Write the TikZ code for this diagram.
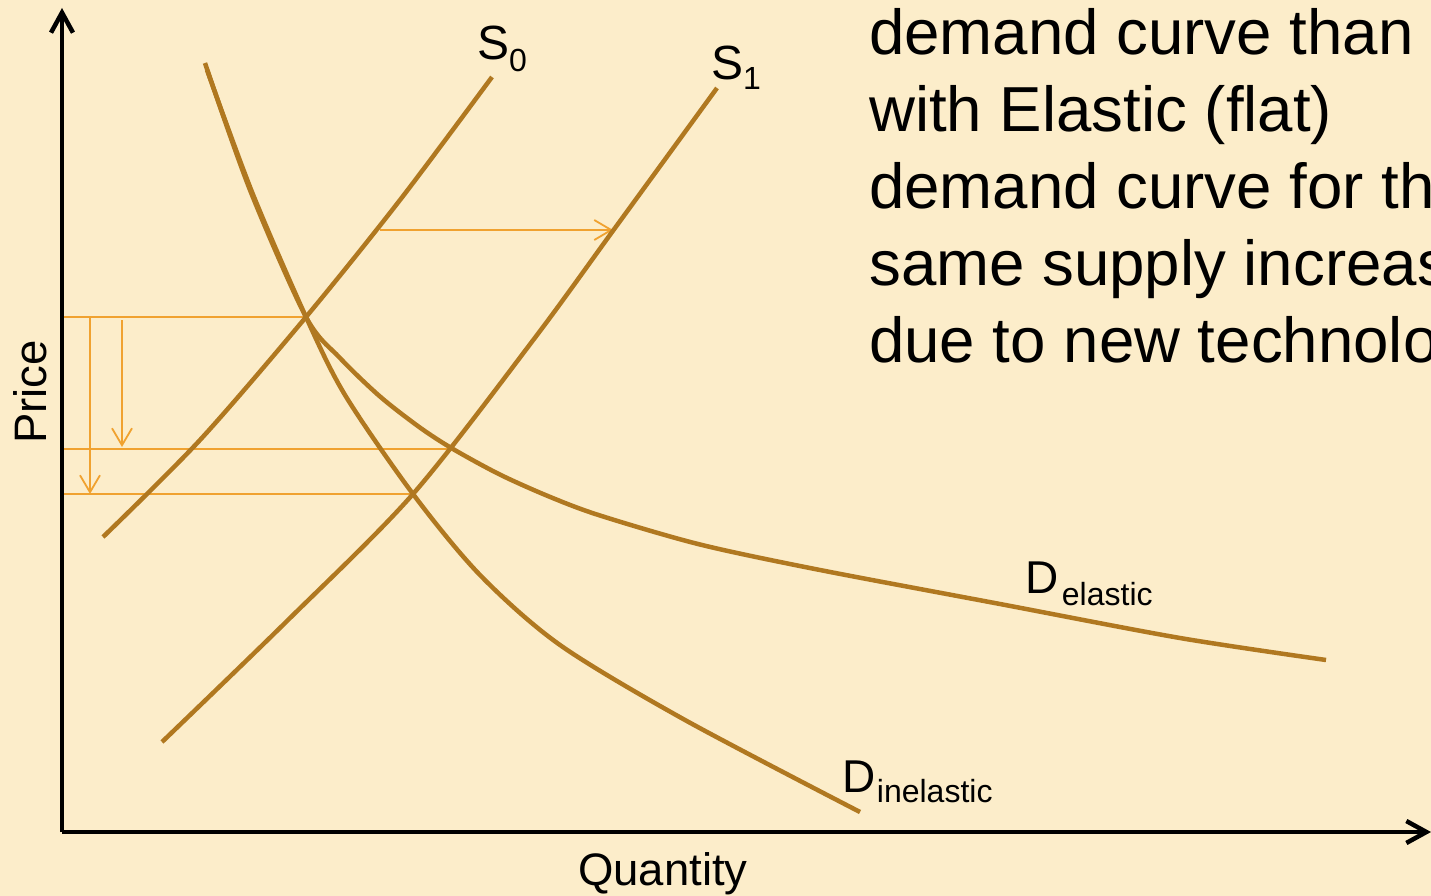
\documentclass[tikz,border=0pt]{standalone}
\usepackage{fontspec}
\setmainfont{Liberation Sans}
\usetikzlibrary{arrows.meta}
\definecolor{bgc}{RGB}{252,237,202}
\definecolor{curvec}{RGB}{176,120,32}
\definecolor{orangec}{RGB}{240,162,48}
\tikzset{
  curve/.style={draw=curvec,line width=4.5pt},
  axis/.style={draw=black,line width=4.5pt,-{Straight Barb[length=20pt,width=22pt]}},
  guide/.style={draw=orangec,line width=1.8pt},
  guidearrow/.style={draw=orangec,line width=1.8pt,-{Straight Barb[length=17pt,width=20pt]}},
  txt/.style={inner sep=0pt,anchor=base west,font=\fontsize{63.6}{77}\selectfont},
  lbl/.style={inner sep=0pt,anchor=base west},
}
\newcommand{\subtxt}[2]{{\fontsize{32}{32}\selectfont\raisebox{-#1pt}{#2}}}
\begin{document}
\begin{tikzpicture}[x=1pt,y=-1pt]
\useasboundingbox (0,0) rectangle (1431,896);
\clip (0,0) rectangle (1431,896);
\fill[bgc] (0,0) rectangle (1431,896);
% equilibrium points
\coordinate (E0) at (306,317);
\coordinate (E1el) at (453,449);
\coordinate (E1in) at (413,494);
\coordinate (yax0) at (62,832);
\coordinate (yaxT) at (62,8);
\coordinate (xaxT) at (1431,832);
% horizontal guides
\coordinate (g0) at (62,317);
\coordinate (g1) at (62,449);
\coordinate (g2) at (62,494);
\draw[guide] (g0) -- (E0);
\draw[guide,line width=2.8pt] (g1) -- (E1el);
\draw[guide] (g2) -- (E1in);
% vertical arrows
\coordinate (a1s) at (90,317);
\coordinate (a1e) at (90,494);
\coordinate (a2s) at (122,320);
\coordinate (a2e) at (122,447);
\draw[guidearrow] (a1s) -- (a1e);
\draw[guidearrow] (a2s) -- (a2e);
% supply shift arrow
\coordinate (h1) at (380,230);
\coordinate (h2) at (613,230);
\draw[guidearrow] (h1) -- (h2);
% curves
\draw[curve] plot[smooth] coordinates {(103,537) (200,440) (306,317) (400,200) (492,77)};
\draw[curve] plot[smooth] coordinates {(162,742) (287,621) (413,494) (534,339) (615,228) (717,88)};
\draw[curve] plot[smooth] coordinates {(205,63) (250,190) (306,317) (340,358) (380,396.5) (420,427.6) (453,449) (500,474.6) (550,496.9) (600,515.5) (700,544.5) (820,570) (1000,604) (1180,638) (1326,660)};
\draw[curve] plot[smooth] coordinates {(207,70) (252,192) (306,317) (345,395) (413,494) (480,575) (560,645) (685,720) (860,812)};
% axes
\draw[axis] (yax0) -- (yaxT);
\draw[axis] (yax0) -- (xaxT);
% labels
\node[lbl,font=\fontsize{48}{48}\selectfont] (s0) at (477,60) {S\subtxt{12}{0}};
\node[lbl,font=\fontsize{48}{48}\selectfont] (s1) at (711,80) {S\subtxt{10}{1}};
\node[lbl,font=\fontsize{46}{46}\selectfont] (del) at (1025.5,593) {D\kern3pt\subtxt{12}{elastic}};
\node[lbl,font=\fontsize{46}{46}\selectfont] (din) at (842.5,792) {D\kern1pt\subtxt{10}{inelastic}};
\node[inner sep=0pt,anchor=base,font=\fontsize{45.5}{45.5}\selectfont] (qty) at (663,885) {Quantity};
\node[inner sep=0pt,anchor=base,rotate=90,font=\fontsize{45.5}{45.5}\selectfont] (price) at (46,392) {Price};
% text block
\node[txt] (t1) at (869,55) {demand curve than};
\node[txt] (t2) at (869,132) {with Elastic (flat)};
\node[txt] (t3) at (869,208) {demand curve for the};
\node[txt] (t4) at (869,285) {same supply increase};
\node[txt] (t5) at (869,362) {due to new technology};
\end{tikzpicture}
\end{document}
